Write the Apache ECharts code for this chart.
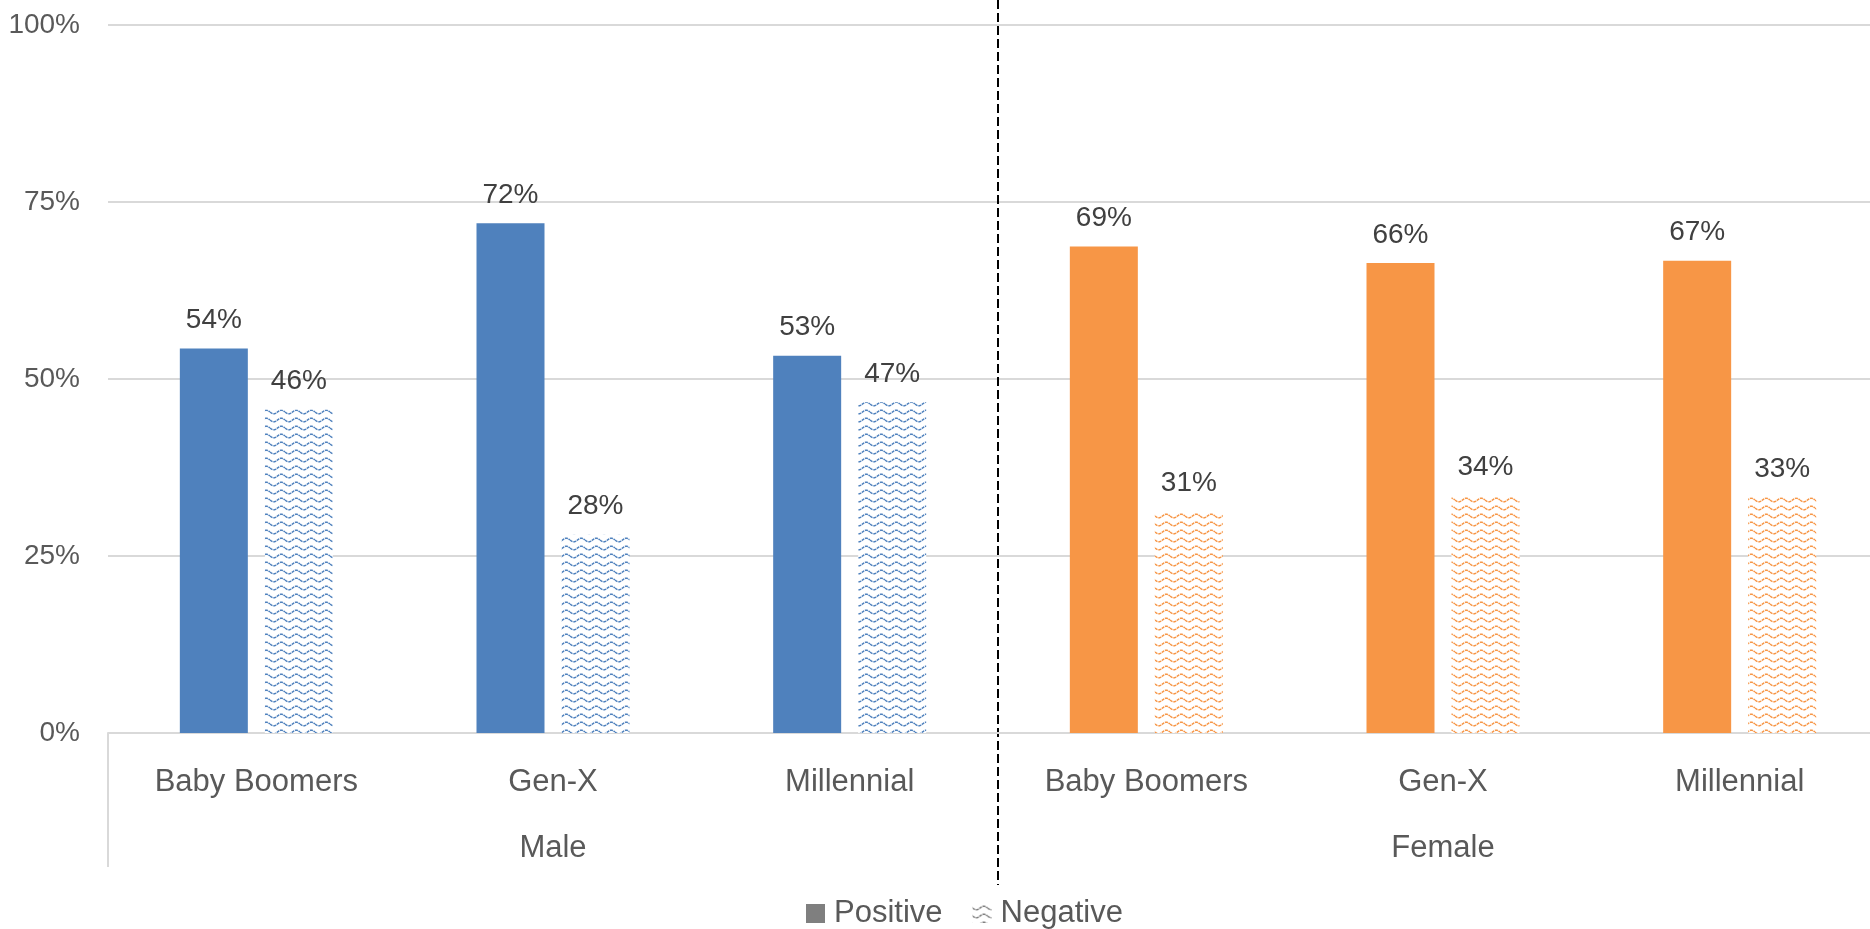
<!DOCTYPE html>
<html>
<head>
<meta charset="utf-8">
<title>Positive / Negative by generation</title>
<script src="https://cdn.jsdelivr.net/npm/echarts@6/dist/echarts.min.js"></script>
<style>
  html, body { margin: 0; padding: 0; background: #fff; }
  #main { width: 1870px; height: 929px; }
</style>
</head>
<body>
<div id="main"></div>
<script>
// data
var categories = ['Baby Boomers', 'Gen-X', 'Millennial', 'Baby Boomers', 'Gen-X', 'Millennial'];
var groups = ['Male', 'Female'];
var positive = [54.3, 72, 53.3, 68.7, 66.4, 66.7];
var negative = [45.7, 28, 46.7, 31.3, 33.6, 33.3];
var yTicks = [0, 25, 50, 75, 100];

var BLUE = '#4f81bd', ORANGE = '#f79646';
var TXT = '#595959';
var SANS = '"Liberation Sans", Arial, sans-serif';

// wavy hatch used for the "Negative" bars
function wave(color) {
    var c = document.createElement('canvas');
    c.width = 15; c.height = 8;
    var ctx = c.getContext('2d');
    ctx.fillStyle = '#fff';
    ctx.fillRect(0, 0, 15, 8);
    ctx.strokeStyle = color;
    ctx.lineWidth = 1.5;
    ctx.setLineDash([3, 0.8]);
    ctx.beginPath();
    for (var x = 0; x <= 15; x += 0.5) {
        var y = 4 + 1.8 * Math.sin(x / 15 * Math.PI * 2);
        if (x === 0) ctx.moveTo(x, y); else ctx.lineTo(x, y);
    }
    ctx.stroke();
    return { image: c, repeat: 'repeat' };
}

function groupColor(i) { return i < 3 ? BLUE : ORANGE; }

var chart = echarts.init(document.getElementById('main'));

var option = {
    animation: false,
    grid: { left: 108, right: -18, top: 25, bottom: 196, outerBoundsMode: 'none' },
    legend: {
        left: 801,
        top: 893,
        itemWidth: 19,
        itemHeight: 19,
        itemGap: 30,
        textStyle: { color: TXT, fontSize: 31, fontFamily: SANS, padding: [0, 0, 0, 4] },
        data: [
            { name: 'Positive', icon: 'rect', itemStyle: { color: '#7f7f7f' } },
            { name: 'Negative', icon: 'rect', itemStyle: { color: wave('#7f7f7f') } }
        ]
    },
    xAxis: [{
        type: 'category',
        data: categories,
        axisLine: { lineStyle: { color: '#d9d9d9', width: 2 } },
        axisTick: { show: false },
        axisLabel: { color: TXT, fontSize: 31, fontFamily: SANS, margin: 34, interval: 0 }
    }, {
        type: 'category',
        position: 'bottom',
        data: groups,
        axisLine: { show: false },
        axisTick: { show: false },
        axisLabel: { color: TXT, fontSize: 31, fontFamily: SANS, margin: 100 }
    }],
    yAxis: {
        type: 'value',
        min: 0,
        max: 100,
        interval: 25,
        axisLine: { show: false },
        axisTick: { show: false },
        splitLine: { lineStyle: { color: '#d9d9d9', width: 2 } },
        axisLabel: {
            color: TXT, fontSize: 28, fontFamily: SANS, margin: 28,
            formatter: function (v) { return yTicks.indexOf(v) >= 0 ? v + '%' : ''; }
        }
    },
    series: [{
        name: 'Positive',
        type: 'bar',
        barWidth: 68,
        barGap: '25%',
        data: positive.map(function (v, i) {
            return { value: v, itemStyle: { color: groupColor(i) } };
        }),
        label: {
            show: true, position: 'top', distance: 14,
            color: '#404040', fontSize: 28, fontFamily: SANS,
            formatter: function (p) { return Math.round(p.value) + '%'; }
        }
    }, {
        name: 'Negative',
        type: 'bar',
        barWidth: 68,
        data: negative.map(function (v, i) {
            return { value: v, itemStyle: { color: wave(groupColor(i)) } };
        }),
        label: {
            show: true, position: 'top', distance: 14,
            color: '#404040', fontSize: 28, fontFamily: SANS,
            formatter: function (p) { return Math.round(p.value) + '%'; }
        }
    }]
};
chart.setOption(option);

// separator lines between the Male / Female groups
var x2 = chart.convertToPixel({ xAxisIndex: 0 }, 2);
var x3 = chart.convertToPixel({ xAxisIndex: 0 }, 3);
var x0 = chart.convertToPixel({ xAxisIndex: 0 }, 0);
var x1 = chart.convertToPixel({ xAxisIndex: 0 }, 1);
var y0 = chart.convertToPixel({ yAxisIndex: 0 }, 0);
var mid = (x2 + x3) / 2;
var left = x0 - (x1 - x0) / 2;

chart.setOption({
    graphic: [{
        type: 'line',
        shape: { x1: left, y1: y0, x2: left, y2: y0 + 134 },
        style: { stroke: '#d9d9d9', lineWidth: 2 }
    }, {
        type: 'line',
        shape: { x1: mid, y1: 0, x2: mid, y2: y0 + 152 },
        style: { stroke: '#000', lineWidth: 2, lineDash: [9, 4] }
    }]
});
</script>
</body>
</html>
